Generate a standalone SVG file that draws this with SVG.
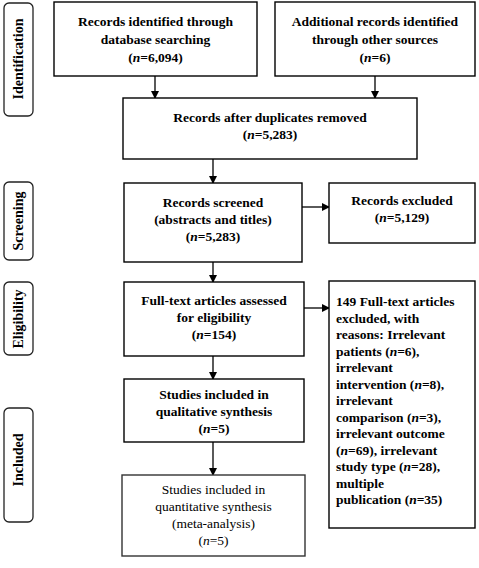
<svg xmlns="http://www.w3.org/2000/svg" width="479" height="568" viewBox="0 0 479 568">
<defs>
<marker id="ah" markerWidth="8" markerHeight="8" refX="7" refY="4" orient="auto" markerUnits="userSpaceOnUse">
<path d="M0,0 L8,4 L0,8 Z" fill="#000"/>
</marker>
<style>
.box{fill:#fff;stroke:#000;stroke-width:1.4}
.box2{fill:#fff;stroke:#333;stroke-width:1.4}
.pill{fill:#fff;stroke:#222;stroke-width:1.3}
.t{font-family:"Liberation Serif","Times New Roman",serif;font-size:13.5px;font-weight:bold;fill:#000;text-anchor:middle}
.tr{font-family:"Liberation Serif","Times New Roman",serif;font-size:13.5px;fill:#000;text-anchor:middle}
.tl{font-family:"Liberation Serif","Times New Roman",serif;font-size:13.5px;font-weight:bold;fill:#000}
.lab{font-family:"Liberation Serif","Times New Roman",serif;font-size:14px;font-weight:bold;fill:#000;text-anchor:middle}
.c{stroke:#000;stroke-width:1.3;fill:none;marker-end:url(#ah)}
</style>
</defs>

<g id="stage-identification">
<rect class="pill" x="4" y="3" width="29" height="113" rx="5"/>
<text class="lab" transform="translate(23,59) rotate(-90)">Identification</text>
</g>
<g id="stage-screening">
<rect class="pill" x="4" y="182" width="29" height="78" rx="5"/>
<text class="lab" transform="translate(23,221) rotate(-90)">Screening</text>
</g>
<g id="stage-eligibility">
<rect class="pill" x="4" y="282" width="29" height="73" rx="5"/>
<text class="lab" transform="translate(23,319) rotate(-90)">Eligibility</text>
</g>
<g id="stage-included">
<rect class="pill" x="4" y="408" width="29" height="114" rx="5"/>
<text class="lab" transform="translate(23,460) rotate(-90)">Included</text>
</g>

<g id="connectors">
<line class="c" x1="155" y1="76" x2="155" y2="98"/>
<line class="c" x1="375" y1="76" x2="375" y2="98"/>
<line class="c" x1="213" y1="159" x2="213" y2="183"/>
<line class="c" x1="302" y1="207" x2="329" y2="207"/>
<line class="c" x1="213" y1="262" x2="213" y2="282"/>
<line class="c" x1="304" y1="308" x2="329" y2="308"/>
<line class="c" x1="213" y1="356" x2="213" y2="379"/>
<line class="c" x1="213" y1="442" x2="213" y2="475"/>
</g>

<g id="db-search">
<rect class="box" x="54" y="2" width="203" height="74"/>
<text class="t" x="155.5" y="26">Records identified through</text>
<text class="t" x="155.5" y="44">database searching</text>
<text class="t" x="155.5" y="62">(<tspan font-style="italic">n</tspan>=6,094)</text>
</g>
<g id="other-sources">
<rect class="box" x="275" y="2" width="200" height="74"/>
<text class="t" x="375" y="26">Additional records identified</text>
<text class="t" x="375" y="44">through other sources</text>
<text class="t" x="375" y="62">(<tspan font-style="italic">n</tspan>=6)</text>
</g>
<g id="dedup">
<rect class="box" x="123" y="98" width="294" height="61"/>
<text class="t" x="270" y="122">Records after duplicates removed</text>
<text class="t" x="270" y="139">(<tspan font-style="italic">n</tspan>=5,283)</text>
</g>
<g id="screened">
<rect class="box" x="124" y="183" width="178" height="79"/>
<text class="t" x="213" y="207">Records screened</text>
<text class="t" x="213" y="224">(abstracts and titles)</text>
<text class="t" x="213" y="241">(<tspan font-style="italic">n</tspan>=5,283)</text>
</g>
<g id="excluded">
<rect class="box" x="329" y="183" width="146" height="60"/>
<text class="t" x="402" y="205">Records excluded</text>
<text class="t" x="402" y="222">(<tspan font-style="italic">n</tspan>=5,129)</text>
</g>
<g id="fulltext">
<rect class="box" x="124" y="282" width="180" height="74"/>
<text class="t" x="214" y="305">Full-text articles assessed</text>
<text class="t" x="214" y="322">for eligibility</text>
<text class="t" x="214" y="339">(<tspan font-style="italic">n</tspan>=154)</text>
</g>
<g id="fulltext-excluded">
<rect class="box" x="329" y="281" width="146" height="247"/>
<text class="tl" x="336" y="306">149 Full-text articles</text>
<text class="tl" x="336" y="322.5">excluded, with</text>
<text class="tl" x="336" y="339">reasons: Irrelevant</text>
<text class="tl" x="336" y="355.5">patients (<tspan font-style="italic">n</tspan>=6),</text>
<text class="tl" x="336" y="372">irrelevant</text>
<text class="tl" x="336" y="388.5">intervention (<tspan font-style="italic">n</tspan>=8),</text>
<text class="tl" x="336" y="405">irrelevant</text>
<text class="tl" x="336" y="421.5">comparison (<tspan font-style="italic">n</tspan>=3),</text>
<text class="tl" x="336" y="438">irrelevant outcome</text>
<text class="tl" x="336" y="454.5">(<tspan font-style="italic">n</tspan>=69), irrelevant</text>
<text class="tl" x="336" y="471">study type (<tspan font-style="italic">n</tspan>=28),</text>
<text class="tl" x="336" y="487.5">multiple</text>
<text class="tl" x="336" y="504">publication (<tspan font-style="italic">n</tspan>=35)</text>
</g>
<g id="qualitative">
<rect class="box" x="124" y="379" width="180" height="63"/>
<text class="t" x="214" y="399">Studies included in</text>
<text class="t" x="214" y="416">qualitative synthesis</text>
<text class="t" x="214" y="433">(<tspan font-style="italic">n</tspan>=5)</text>
</g>
<g id="quantitative">
<rect class="box2" x="122" y="475" width="183" height="81"/>
<text class="tr" x="213.5" y="494">Studies included in</text>
<text class="tr" x="213.5" y="511">quantitative synthesis</text>
<text class="tr" x="213.5" y="528">(meta-analysis)</text>
<text class="tr" x="213.5" y="545">(<tspan font-style="italic">n</tspan>=5)</text>
</g>
</svg>
